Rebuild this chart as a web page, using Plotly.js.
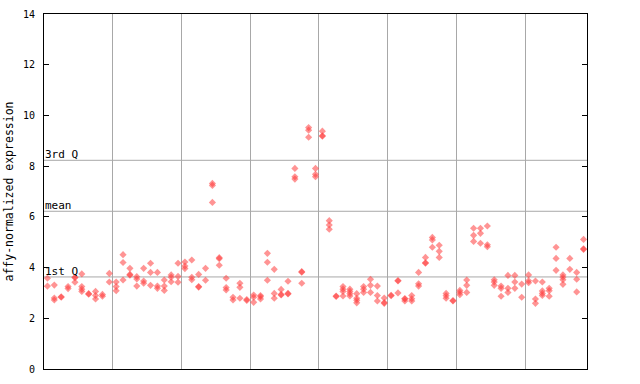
<!DOCTYPE html>
<html>
<head>
<meta charset="utf-8">
<script src="https://cdn.plot.ly/plotly-3.0.1.min.js"></script>
<style>
html,body{margin:0;padding:0;background:#fff;}
#chart{width:640px;height:384px;}
</style>
</head>
<body>
<div id="chart"></div>
<script>
// Expression values per sample (samples 1..79, left to right)
const sampleValues = [
  [3.58, 3.27], [3.31, 2.80, 2.72], [2.85, 2.83], [3.25, 3.17], [3.62, 3.60, 3.42],
  [3.75, 3.25, 3.15, 3.06], [2.97, 2.95], [3.06, 2.90, 2.76], [2.94, 2.87], [3.77, 3.43],
  [3.43, 3.25, 3.09], [4.51, 4.20, 3.51], [3.97, 3.73, 3.70], [3.64, 3.55, 3.27], [3.97, 3.47, 3.38],
  [4.17, 3.81, 3.30], [3.81, 3.27, 3.18], [3.51, 3.27, 3.10], [3.71, 3.62, 3.44], [4.17, 3.65, 3.42],
  [4.22, 4.06, 3.96], [4.30, 3.62, 3.52], [3.73, 3.25, 3.23], [3.97, 3.50], [7.32, 7.24, 6.57],
  [4.39, 4.35, 4.09], [3.58, 3.21, 3.12], [2.83, 2.72], [3.38, 3.22, 2.79], [2.74, 2.70],
  [2.92, 2.83, 2.63], [2.90, 2.85, 2.76], [4.56, 4.21, 3.50], [3.93, 2.98, 2.79], [3.14, 2.94, 2.92],
  [3.46, 2.98, 2.96], [7.91, 7.58, 7.49], [3.84, 3.82, 3.38], [9.52, 9.42, 9.14], [7.91, 7.68, 7.58],
  [9.38, 9.20, 9.18], [5.85, 5.68, 5.51], [2.88, 2.86], [3.25, 3.15, 3.06, 2.88], [3.15, 3.06, 2.97, 2.88],
  [2.97, 2.79, 2.71, 2.61], [3.25, 3.15, 3.02], [3.54, 3.30, 3.02], [3.27, 2.90, 2.68], [2.80, 2.62, 2.59],
  [2.91, 2.89], [3.49, 3.47, 3.00], [2.78, 2.76, 2.68], [2.90, 2.77, 2.68], [3.81, 3.36, 3.27],
  [4.40, 4.19, 4.17], [5.19, 5.09, 4.80], [4.88, 4.64, 4.40], [2.98, 2.89, 2.79], [2.70, 2.68],
  [3.10, 3.02, 2.93], [3.51, 3.30, 3.02], [5.55, 5.27, 5.03], [5.55, 5.35, 4.96], [5.64, 4.90, 4.82],
  [3.52, 3.43, 3.30], [3.27, 3.18, 2.87], [3.69, 3.18, 3.02], [3.69, 3.43, 3.18], [3.35, 2.83],
  [3.71, 3.48, 3.40], [3.47, 2.76, 2.59], [3.43, 3.08, 2.98, 2.90], [3.18, 3.09, 2.87], [4.80, 4.36, 3.89],
  [3.71, 3.62, 3.52, 3.34], [4.36, 3.93], [3.81, 3.54, 3.04], [5.11, 4.74, 4.72]
];
// Summary lines
const summaryLabels = ["3rd Q", "mean", "1st Q"];
const summaryValues = [8.23, 6.22, 3.63];
// Group separators (every 10 samples)
const groupBoundaries = [10.5, 20.5, 30.5, 40.5, 50.5, 60.5, 70.5];
const yTicks = [0, 2, 4, 6, 8, 10, 12, 14];

const xs = [], ys = [];
sampleValues.forEach((vals, i) => {
  vals.forEach(v => { xs.push(i + 1); ys.push(v); });
});

const mono = "DejaVu Sans Mono, monospace";

const trace = {
  type: "scatter",
  mode: "markers",
  x: xs,
  y: ys,
  marker: {symbol: "diamond", size: 5.5, color: "rgba(255,60,60,0.55)", line: {width: 0}},
  hoverinfo: "y",
  showlegend: false
};

const shapes = summaryValues.map(v => ({
  type: "line", xref: "paper", x0: 0, x1: 1, yref: "y", y0: v, y1: v,
  line: {color: "#a8a8a8", width: 1}, layer: "below"
}));

const annotations = summaryValues.map((v, i) => ({
  xref: "paper", x: 0, xanchor: "left", yref: "y", y: v, yanchor: "bottom",
  text: summaryLabels[i], showarrow: false,
  font: {family: mono, size: 11, color: "#000"}, xshift: -1, yshift: -3
}));

const layout = {
  width: 640, height: 384,
  margin: {l: 44, r: 52.5, t: 13.5, b: 15, pad: 0},
  paper_bgcolor: "#fff", plot_bgcolor: "#fff",
  showlegend: false,
  xaxis: {
    range: [0.5, sampleValues.length + 0.5],
    tickvals: groupBoundaries, showticklabels: false, ticks: "",
    showgrid: true, gridcolor: "#a8a8a8", gridwidth: 1,
    zeroline: false, showline: true, linecolor: "#000", linewidth: 1, mirror: true
  },
  yaxis: {
    range: [0, 14], tickvals: yTicks, ticktext: yTicks.map(String),
    ticks: "inside", ticklen: 5, tickcolor: "#000", tickwidth: 1,
    ticklabelstandoff: 6,
    showgrid: false, zeroline: false, showline: true, linecolor: "#000", linewidth: 1,
    mirror: "ticks",
    tickfont: {family: mono, size: 10, color: "#000"},
    title: {text: "affy-normalized expression", font: {family: mono, size: 11.5, color: "#000"}, standoff: 6}
  },
  shapes: shapes,
  annotations: annotations
};

Plotly.newPlot("chart", [trace], layout, {displayModeBar: false, staticPlot: true});
</script>
</body>
</html>
